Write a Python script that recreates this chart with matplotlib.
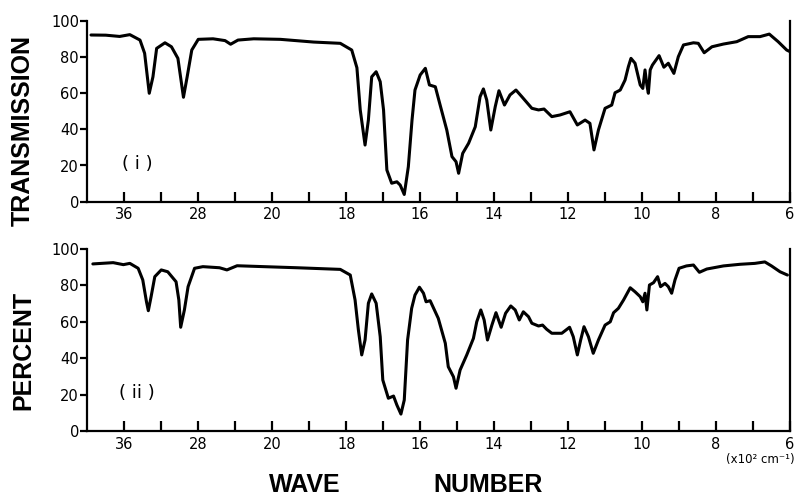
import numpy as np
import matplotlib
matplotlib.use("Agg")
import matplotlib.pyplot as plt

# wavenumber in units of 100 cm^-1, percent transmission
wn_i = [39.6, 38.0, 36.5, 35.4, 34.3, 33.8, 33.3, 32.9, 32.5, 31.6, 30.9, 30.2, 29.6, 29.2,
        28.7, 28.0, 26.4, 25.1, 24.5, 23.7, 22.0, 19.78, 18.88, 18.16, 17.85, 17.71, 17.62,
        17.49, 17.40, 17.31, 17.19, 17.08, 16.99, 16.90, 16.77, 16.63, 16.54, 16.43, 16.32,
        16.22, 16.14, 16.00, 15.86, 15.75, 15.59, 15.46, 15.28, 15.14, 15.03, 14.96, 14.85,
        14.69, 14.51, 14.38, 14.29, 14.20, 14.09, 13.97, 13.87, 13.72, 13.57, 13.41, 13.25,
        12.98, 12.80, 12.65, 12.44, 12.22, 11.95, 11.75, 11.54, 11.41, 11.30, 11.18, 11.00,
        10.82, 10.73, 10.59, 10.46, 10.37, 10.30, 10.19, 10.05, 9.98, 9.92, 9.87, 9.83, 9.78,
        9.72, 9.54, 9.41, 9.29, 9.14, 9.02, 8.88, 8.61, 8.48, 8.32, 8.11, 7.80, 7.44, 7.13,
        6.81, 6.56, 6.32, 6.09, 6.00]
t_i = [92.1, 92.0, 91.3, 92.3, 89.3, 82, 59.9, 69, 84.7, 87.8, 85.6, 79.2, 57.7, 69,
       83.8, 89.7, 90, 89, 87, 89.3, 90, 89.7, 88.2, 87.5, 83.8, 74, 50.7,
       31.3, 45.1, 69, 71.8, 66.3, 50.7, 17.5, 10.2, 11, 9.2, 4, 19.3,
       45.1, 61.7, 70, 73.7, 64.5, 63.5, 53.4, 39.6, 24.9, 22.1, 15.7, 26.7,
       32.3, 41.4, 58, 62.3, 56.2, 39.6, 52.5, 61.3, 53.4, 59, 61.7, 58,
       51.6, 50.7, 51.2, 47, 47.9, 49.7, 42.4, 45.1, 43.3, 28.6, 39.6, 51.6,
       53.4, 60.2, 61.7, 67.2, 74.6, 79.2, 76.5, 64.5, 62.6, 72.8, 64.5, 59.9, 72.8,
       75.5, 80.7, 74.3, 76.5, 70.9, 80.1, 86.6, 87.8, 87.5, 82.3, 85.6, 87.1, 88.4, 91.2,
       91.2, 92.6, 88.4, 83.8, 82.9]

wn_ii = [39.4, 37.2, 36.1, 35.4, 34.5, 34.0, 33.6, 33.4, 33.1, 32.7, 32.0, 31.3, 30.4, 30.1,
         29.9, 29.5, 29.1, 28.4, 27.5, 25.7, 24.9, 23.8, 20.9, 19.33, 18.16, 17.89, 17.76,
         17.67, 17.58, 17.49, 17.40, 17.31, 17.19, 17.08, 17.01, 16.86, 16.72, 16.63, 16.52,
         16.43, 16.34, 16.23, 16.14, 16.02, 15.91, 15.84, 15.73, 15.51, 15.32, 15.24, 15.10,
         15.03, 14.92, 14.74, 14.56, 14.47, 14.36, 14.27, 14.18, 14.06, 13.95, 13.81, 13.69,
         13.55, 13.43, 13.32, 13.21, 13.07, 12.98, 12.80, 12.69, 12.58, 12.44, 12.17, 11.96,
         11.86, 11.75, 11.66, 11.57, 11.45, 11.32, 11.18, 11.00, 10.86, 10.77, 10.64, 10.50,
         10.32, 10.19, 10.05, 9.98, 9.92, 9.87, 9.80, 9.69, 9.58, 9.50, 9.38, 9.29, 9.20,
         9.11, 9.00, 8.80, 8.61, 8.45, 8.25, 7.80, 7.35, 6.95, 6.68, 6.50, 6.27, 6.07]
t_ii = [91.8, 92.5, 91.4, 92.1, 89.4, 83, 71, 66.1, 73.8, 84.8, 88.5, 87.5, 82, 72,
        57, 66.5, 79.3, 89.4, 90.3, 89.7, 88.5, 90.8, 90.3, 89.7, 88.8, 85.7, 72,
        55.5, 41.8, 50, 70.2, 75.3, 70.2, 51.8, 28, 18, 19.2, 14.3, 9.3,
        17, 50, 67.4, 74.7, 79, 75.7, 71, 71.6, 61.9, 48.2, 35.3, 29.8,
        23.5, 33.5, 41.8, 50.9, 60, 66.5, 61, 50, 58.2, 65, 57, 64.7,
        68.7, 66.5, 61, 65.5, 62.8, 59.2, 57.7, 58.2, 55.9, 53.7, 53.7, 57,
        51.8, 41.8, 50, 57.3, 51.8, 42.7, 50, 58.2, 60, 65, 67.4, 72,
        78.7, 76.5, 73.8, 71, 75.7, 66.5, 80.2, 81.5, 84.8, 79.3, 81.1, 79.3, 75.7,
        83, 89.4, 90.7, 91.2, 87.2, 89, 90.7, 91.6, 92.1, 92.9, 90.7, 87.5, 85.7]

x_ticks = [36, 32, 28, 24, 20, 19, 18, 17, 16, 15, 14, 13, 12, 11, 10, 9, 8, 7, 6]
x_ticklabels = ['36', '', '28', '', '20', '', '18', '', '16', '', '14', '', '12', '', '10', '', '8', '', '6']
y_ticks = [0, 20, 40, 60, 80, 100]
y_ticklabels = ['0', '20', '40', '60', '80', '100']
panel_labels = ['( i )', '( ii )']


def fwd(x):
    x = np.asarray(x, dtype=float)
    return np.where(x >= 20, x / 4.0 + 15.0, x)


def inv(y):
    y = np.asarray(y, dtype=float)
    return np.where(y >= 20, (y - 15.0) * 4.0, y)


W, H = 807, 499
fig = plt.figure(figsize=(W / 100, H / 100), dpi=100)

tick_font = dict(family='DejaVu Sans', size=10.5)

panels = [
    (wn_i, t_i, 201.7, 20.7, panel_labels[0]),
    (wn_ii, t_ii, 431.0, 249.0, panel_labels[1]),
]
left_px, right_px = 87.3, 790.0
for wn, tt, y0, y100, lab in panels:
    ax = fig.add_axes([left_px / W, 1 - y0 / H, (right_px - left_px) / W, (y0 - y100) / H])
    ax.set_xscale('function', functions=(fwd, inv))
    ax.plot(wn, tt, color='black', lw=2.2, solid_joinstyle='round', solid_capstyle='round')
    ax.set_xlim(40, 6)
    ax.set_ylim(0, 100)
    ax.spines['top'].set_visible(False)
    for s in ['left', 'right', 'bottom']:
        ax.spines[s].set_linewidth(1.6)
    ax.set_xticks(x_ticks)
    ax.set_xticklabels(x_ticklabels, fontdict=tick_font)
    ax.xaxis.set_minor_locator(matplotlib.ticker.NullLocator())
    ax.set_yticks(y_ticks)
    ax.set_yticklabels(y_ticklabels, fontdict=tick_font)
    ax.tick_params(axis='x', direction='in', length=7, width=1.6, pad=4)
    ax.tick_params(axis='y', direction='out', length=5, width=1.6, pad=1)
    ax.text(34.6, 21, lab, ha='center', va='center', fontsize=13, family='DejaVu Sans')

lab_font = dict(family='Liberation Sans', fontsize=18, fontweight='bold')
fig.text(23 / W, 1 - 131 / H, 'TRANSMISSION', rotation=90, ha='center', va='center', **lab_font)
fig.text(23 / W, 1 - 350 / H, 'PERCENT', rotation=90, ha='center', va='center', **lab_font)
fig.text(305 / W, 1 - 485 / H, 'WAVE', ha='center', va='center', **lab_font)
fig.text(488 / W, 1 - 485 / H, 'NUMBER', ha='center', va='center', **lab_font)
fig.text(760 / W, 1 - 459 / H, '(x10² cm⁻¹)', ha='center', va='center', fontsize=8.5, family='DejaVu Sans')

fig.savefig('out.png', dpi=100)
